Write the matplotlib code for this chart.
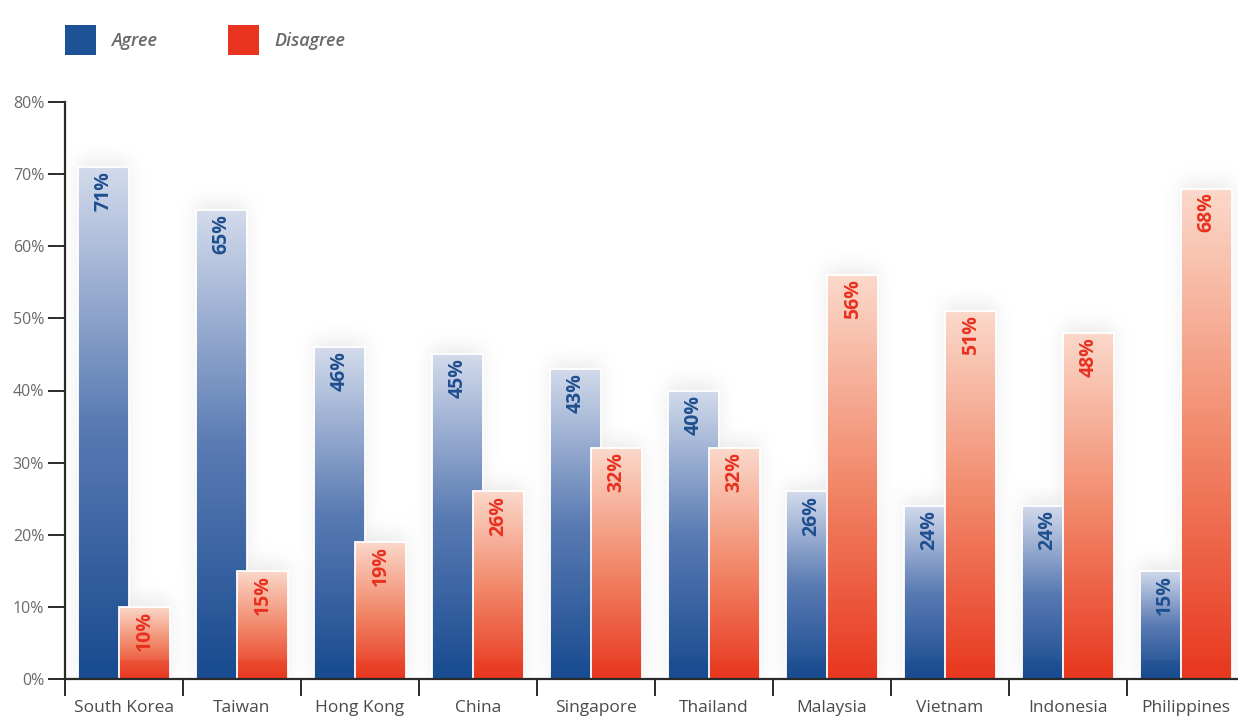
import numpy as np
import matplotlib
matplotlib.use("Agg")
import matplotlib.pyplot as plt
from matplotlib.colors import LinearSegmentedColormap
from matplotlib.patches import Rectangle

# Survey results by country (percent)
countries = ["South Korea", "Taiwan", "Hong Kong", "China", "Singapore",
             "Thailand", "Malaysia", "Vietnam", "Indonesia", "Philippines"]
agree = [71, 65, 46, 45, 43, 40, 26, 24, 24, 15]
disagree = [10, 15, 19, 26, 32, 32, 56, 51, 48, 68]
yticks = [0, 10, 20, 30, 40, 50, 60, 70, 80]

BLUE_DARK, BLUE_LIGHT = "#184b90", "#d3dbec"
RED_DARK, RED_LIGHT = "#e8381f", "#fbd9cb"
BLUE_TXT, RED_TXT = "#1f4f8f", "#e8301f"
GREY_TXT = "#6a6a6a"

plt.rcParams["font.family"] = ["Open Sans", "DejaVu Sans"]

W, H, DPI = 1238, 717, 100
fig = plt.figure(figsize=(W / DPI, H / DPI), dpi=DPI)
fig.patch.set_facecolor("white")

left_px, right_px, bottom_px, top_px = 65, 1245, 679, 102
ax = fig.add_axes([left_px / W, 1 - bottom_px / H,
                   (right_px - left_px) / W, (bottom_px - top_px) / H])
ax.set_facecolor("white")

x = np.arange(len(countries))
width = 0.43
off = 0.175
xlim = (-0.5, len(countries) - 0.5)
ylim = (0, 80)

# soft grey glow around all bars
nx, ny = right_px - left_px, bottom_px - top_px
gx = np.linspace(xlim[0], xlim[1], nx)
gy = np.linspace(ylim[0], ylim[1], ny)
mask = np.zeros((ny, nx))
for xs, vals in ((x - off, agree), (x + off, disagree)):
    for xc, v in zip(xs, vals):
        cols = (gx >= xc - width / 2) & (gx <= xc + width / 2)
        rows = gy <= v + 1.0
        mask[np.ix_(rows, cols)] = 1.0
sig = 9.0
k = np.exp(-0.5 * (np.arange(-30, 31) / sig) ** 2)
k /= k.sum()
pad = 30
m = np.pad(mask, pad, mode="constant")
m = np.apply_along_axis(lambda r: np.convolve(r, k, mode="same"), 1, m)
m = np.apply_along_axis(lambda c: np.convolve(c, k, mode="same"), 0, m)
m = m[pad:-pad, pad:-pad]
glow = np.zeros((ny, nx, 4))
glow[..., :3] = 0.6
glow[..., 3] = 0.2 * m
ax.imshow(glow, extent=[xlim[0], xlim[1], ylim[0], ylim[1]], origin="lower",
          aspect="auto", zorder=1, interpolation="bilinear")

grad = np.linspace(0, 1, 256).reshape(-1, 1)
cmap_b = LinearSegmentedColormap.from_list("agree", [BLUE_DARK, "#5a7bb3", BLUE_LIGHT])
cmap_r = LinearSegmentedColormap.from_list("disagree", [RED_DARK, "#f28a6c", RED_LIGHT])


def draw_series(xs, vals, cmap, txt_color, z):
    bars = ax.bar(xs, vals, width=width, facecolor="none", edgecolor="white",
                  linewidth=1.3, zorder=z + 1)
    for b, v in zip(bars, vals):
        x0 = b.get_x()
        im = ax.imshow(grad, extent=[x0, x0 + width, 0, v], origin="lower",
                       aspect="auto", cmap=cmap, zorder=z, interpolation="bilinear")
        im.set_clip_path(b)
        # slightly deeper band at the foot of each bar
        ax.add_patch(Rectangle((x0, 0), width, 2.6, facecolor=cmap(0.0),
                               alpha=0.3, edgecolor="none", zorder=z + 0.5,
                               clip_path=b))
        ax.annotate(f"{v}%", (b.get_x() + width / 2, v), xytext=(0, -3),
                    textcoords="offset points", rotation=90, ha="center",
                    va="top", fontsize=14, fontweight="bold", color=txt_color,
                    zorder=z + 2)


draw_series(x - off, agree, cmap_b, BLUE_TXT, 2)
draw_series(x + off, disagree, cmap_r, RED_TXT, 5)

ax.set_xlim(*xlim)
ax.set_ylim(*ylim)

# axes styling
for s in ("top", "right"):
    ax.spines[s].set_visible(False)
for s in ("left", "bottom"):
    ax.spines[s].set_color("#2a2a2a")
    ax.spines[s].set_linewidth(1.6)
    ax.spines[s].set_zorder(10)

ax.set_yticks(yticks)
ax.set_yticklabels([f"{t}%" for t in yticks])
ax.tick_params(axis="y", direction="out", length=12, width=1.4, color="#2a2a2a",
               labelsize=11.5, labelcolor=GREY_TXT, pad=3)

ax.set_xticks(x)
ax.set_xticklabels(countries)
ax.tick_params(axis="x", which="major", length=0, pad=15, labelsize=12.5,
               labelcolor="#4a4a4a")
ax.set_xticks(np.arange(len(countries) + 1) - 0.5, minor=True)
ax.tick_params(axis="x", which="minor", direction="out", length=12, width=1.4,
               color="#2a2a2a")

# legend
for (lx, label, col) in ((65, "Agree", "#1d5296"), (228, "Disagree", "#e8341f")):
    fig.add_artist(Rectangle((lx / W, 1 - 55 / H), 31 / W, 30 / H,
                             transform=fig.transFigure, facecolor=col,
                             edgecolor="none"))
    fig.text((lx + 46) / W, 1 - 41 / H, label, fontsize=13, style="italic",
             fontweight="semibold", color=GREY_TXT, va="center", ha="left")

fig.savefig("out.png", dpi=DPI, facecolor="white")
